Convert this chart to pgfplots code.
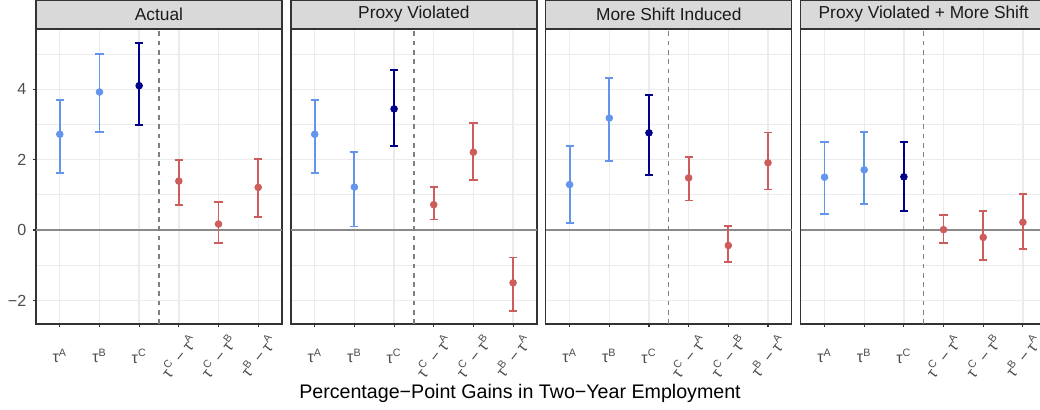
\documentclass[border=0pt]{standalone}
\usepackage{fontspec}
\setmainfont{Liberation Sans}
\usepackage{pgfplots}
\pgfplotsset{compat=1.18}
\definecolor{ltblue}{HTML}{6495ED}
\definecolor{dkblue}{HTML}{00008B}
\definecolor{indred}{HTML}{CD5C5C}
\definecolor{grid92}{HTML}{EBEBEB}
\definecolor{grey20}{HTML}{333333}
\definecolor{grey30}{HTML}{4D4D4D}
\definecolor{grey50}{HTML}{7F7F7F}
\definecolor{zline}{HTML}{8A8A8A}
\definecolor{grey85}{HTML}{D9D9D9}
\definecolor{grey10}{HTML}{1A1A1A}
\pgfplotsset{
  panel/.style={
    anchor=south west,
    width=137.76pt, height=165.2pt, scale only axis,
    xmin=0.4, xmax=6.6, ymin=-2.67, ymax=5.71,
    xtick={1,2,3,4,5,6},
    xticklabels={τ\textsuperscript{A}, τ\textsuperscript{B}, τ\textsuperscript{C},
      \rotatebox{52}{τ\textsuperscript{C} − τ\textsuperscript{A}},
      \rotatebox{52}{τ\textsuperscript{C} − τ\textsuperscript{B}},
      \rotatebox{52}{τ\textsuperscript{B} − τ\textsuperscript{A}}},
    ytick={-2,0,2,4}, minor ytick={-1,1,3,5},
    yticklabels={−2,0,2,4},
    grid=both,
    major grid style={grid92, line width=0.75pt},
    minor grid style={grid92, line width=0.4pt},
    axis line style={grey20, line width=0.75pt},
    tick align=outside, major tick length=1.9pt, minor tick length=0pt,
    tick style={grey20, line width=0.6pt},
    xtick pos=bottom, ytick pos=left,
    xticklabel style={anchor=center, yshift=-16pt, font=\fontsize{9}{10}\selectfont, text=grey30},
    yticklabel style={font=\fontsize{9}{10}\selectfont, text=grey30},
    clip=false,
  },
  eb/.style={only marks, mark=*, mark size=1.9pt, color=#1,
    error bars/.cd, y dir=both, y explicit,
    error bar style={line width=1.05pt, color=#1},
    error mark options={rotate=90, mark size=2.3pt, line width=1.05pt, color=#1}},
  noy/.style={yticklabels={}, y tick style={draw=none}},
}
\newcommand{\refl}{%
  \addplot[zline, line width=0.8pt, no marks] coordinates {(0.4,0) (6.6,0)};
  \addplot[grey50, dash pattern=on 2.6pt off 2.6pt, line width=0.75pt, no marks] coordinates {(3.5,-2.67) (3.5,5.71)};
}
\newcommand{\strip}[1]{%
  \draw[grey20, fill=grey85, line width=0.75pt] (rel axis cs:0,1) rectangle ([yshift=16.24pt]rel axis cs:1,1);
  \node[font=\fontsize{9.7}{11}\selectfont, text=grey10] at ([yshift=8.12pt]rel axis cs:0.5,1) {#1};
}
\begin{document}
\begin{tikzpicture}
% Panel 1
\begin{axis}[panel, at={(20.16pt,48.16pt)}]
\refl
\addplot[eb=ltblue] coordinates {(1,2.72) += (0,0.97) -= (0,1.10) (2,3.92) += (0,1.07) -= (0,1.14)};
\addplot[eb=dkblue] coordinates {(3,4.10) += (0,1.22) -= (0,1.12)};
\addplot[eb=indred] coordinates {(4,1.39) += (0,0.59) -= (0,0.69) (5,0.17) += (0,0.63) -= (0,0.54) (6,1.21) += (0,0.80) -= (0,0.84)};
\strip{Actual}
\end{axis}
% Panel 2
\begin{axis}[panel, noy, at={(162.9pt,48.16pt)}]
\refl
\addplot[eb=ltblue] coordinates {(1,2.72) += (0,0.97) -= (0,1.10) (2,1.22) += (0,1.00) -= (0,1.12)};
\addplot[eb=dkblue] coordinates {(3,3.44) += (0,1.10) -= (0,1.05)};
\addplot[eb=indred] coordinates {(4,0.72) += (0,0.49) -= (0,0.42) (5,2.21) += (0,0.83) -= (0,0.78) (6,-1.50) += (0,0.72) -= (0,0.80)};
\strip{Proxy Violated}
\end{axis}
% Panel 3
\begin{axis}[panel, noy, at={(305.65pt,48.16pt)}]
\refl
\addplot[eb=ltblue] coordinates {(1,1.29) += (0,1.09) -= (0,1.09) (2,3.18) += (0,1.14) -= (0,1.22)};
\addplot[eb=dkblue] coordinates {(3,2.76) += (0,1.07) -= (0,1.20)};
\addplot[eb=indred] coordinates {(4,1.48) += (0,0.60) -= (0,0.64) (5,-0.44) += (0,0.55) -= (0,0.47) (6,1.91) += (0,0.86) -= (0,0.76)};
\strip{More Shift Induced}
\end{axis}
% Panel 4
\begin{axis}[panel, noy, at={(448.39pt,48.16pt)}]
\refl
\addplot[eb=ltblue] coordinates {(1,1.50) += (0,1.00) -= (0,1.04) (2,1.71) += (0,1.07) -= (0,0.98)};
\addplot[eb=dkblue] coordinates {(3,1.51) += (0,1.00) -= (0,0.97)};
\addplot[eb=indred] coordinates {(4,0.01) += (0,0.41) -= (0,0.38) (5,-0.21) += (0,0.75) -= (0,0.65) (6,0.22) += (0,0.80) -= (0,0.76)};
\strip{Proxy Violated + More Shift}
\end{axis}
\node[anchor=base, font=\fontsize{11}{13}\selectfont] at (291.2pt,6.16pt) {Percentage−Point Gains in Two−Year Employment};
\pgfresetboundingbox
\path[use as bounding box] (0,0) rectangle (582.4pt,229.6pt);
\end{tikzpicture}
\end{document}
